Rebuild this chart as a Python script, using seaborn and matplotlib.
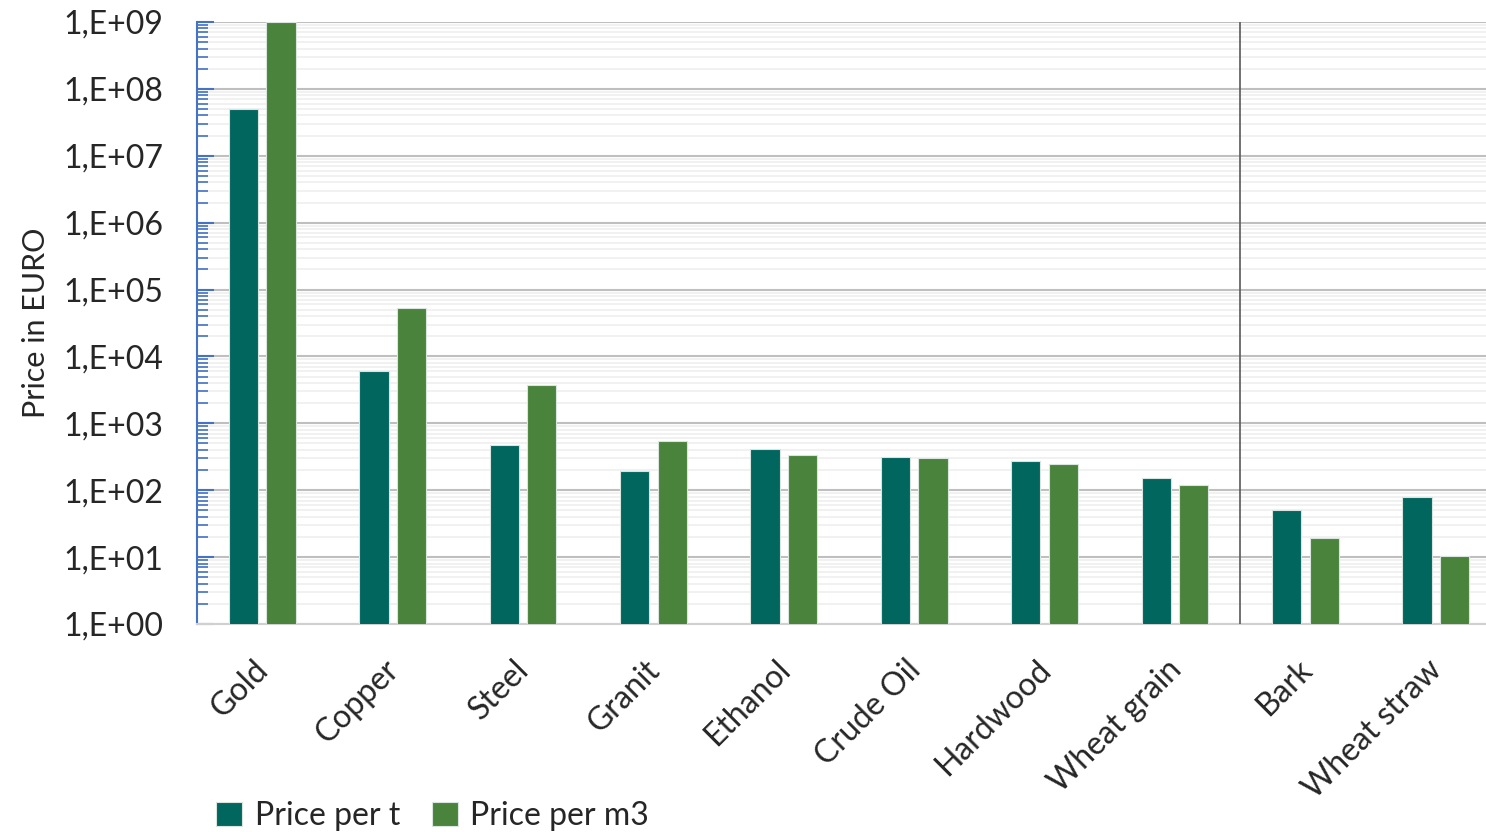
import matplotlib
matplotlib.use('Agg')
import matplotlib.pyplot as plt
import matplotlib.ticker as mticker
import matplotlib.transforms as mtransforms
import seaborn as sns
import pandas as pd
import numpy as np

# data
materials = ['Gold', 'Copper', 'Steel', 'Granit', 'Ethanol', 'Crude Oil',
             'Hardwood', 'Wheat grain', 'Bark', 'Wheat straw']
price_per_t = [5.0e7, 6000, 480, 195, 420, 315, 275, 150, 50, 80]
price_per_m3 = [1.0e9, 53000, 3800, 550, 340, 300, 250, 118, 19, 10.5]

df = pd.DataFrame({
    'material': materials * 2,
    'price': price_per_t + price_per_m3,
    'series': ['Price per t'] * len(materials) + ['Price per m3'] * len(materials),
})

sns.set_style('white')
plt.rcParams['font.family'] = ['Lato', 'DejaVu Sans']

fig = plt.figure(figsize=(14.86, 8.32), dpi=100)
# the plot area runs a little past the right edge of the picture
ax = fig.add_axes([0.1326, 0.25, 0.8775, 0.7236])

sns.barplot(data=df, x='material', y='price', hue='series', ax=ax,
            palette=['#00665E', '#4A843C'], saturation=1, width=0.575, gap=0.22,
            edgecolor='#D9E5DE', linewidth=0.8, zorder=3)
ax.set_yscale('log')
ax.set_ylim(1, 1e9)
ax.set_xlim(-0.5, len(materials) - 0.5)

# grid
ax.yaxis.set_major_locator(mticker.LogLocator(base=10, numticks=12))
ax.yaxis.set_minor_locator(mticker.LogLocator(base=10, subs=np.arange(2, 10), numticks=12))
ax.yaxis.set_major_formatter(mticker.FuncFormatter(
    lambda v, p: '1,E+%02d' % int(round(np.log10(v)))))
ax.yaxis.set_minor_formatter(mticker.NullFormatter())
ax.grid(which='major', axis='y', color='#BFBFBF', linewidth=1.5, zorder=0)
ax.grid(which='minor', axis='y', color='#EFEFEF', linewidth=1.2, zorder=0)
ax.set_axisbelow(True)

# separator between the two groups
ax.axvline(7.5, color='#595959', linewidth=1.2, zorder=4)

# spines / ticks
for s in ['top', 'right']:
    ax.spines[s].set_visible(False)
ax.spines['left'].set_color('#4472C4')
ax.spines['left'].set_linewidth(1.5)
ax.spines['bottom'].set_color('#D0D0D0')
ax.spines['bottom'].set_linewidth(1.5)
ax.tick_params(axis='y', which='major', left=True, direction='in', length=12,
               width=1.5, color='#4472C4', labelsize=23, pad=24)
ax.tick_params(axis='y', which='minor', left=True, direction='in', length=8,
               width=1.2, color='#4472C4')
ax.tick_params(axis='x', length=0, labelsize=23, pad=22)
shift = mtransforms.ScaledTranslation(-9 / 100, 0, fig.dpi_scale_trans)
for lbl in ax.get_xticklabels():
    lbl.set_rotation(45)
    lbl.set_horizontalalignment('right')
    lbl.set_rotation_mode('anchor')
    lbl.set_transform(lbl.get_transform() + shift)

ax.set_xlabel('')
ax.set_ylabel('Price in EURO', fontsize=22, labelpad=10)

ax.legend(loc='lower left', bbox_to_anchor=(0.005, -0.365), ncol=2, frameon=False,
          fontsize=23, handlelength=0.8, handleheight=0.8, handletextpad=0.4,
          columnspacing=1.0, borderaxespad=0)

fig.savefig('out.png', dpi=100)
